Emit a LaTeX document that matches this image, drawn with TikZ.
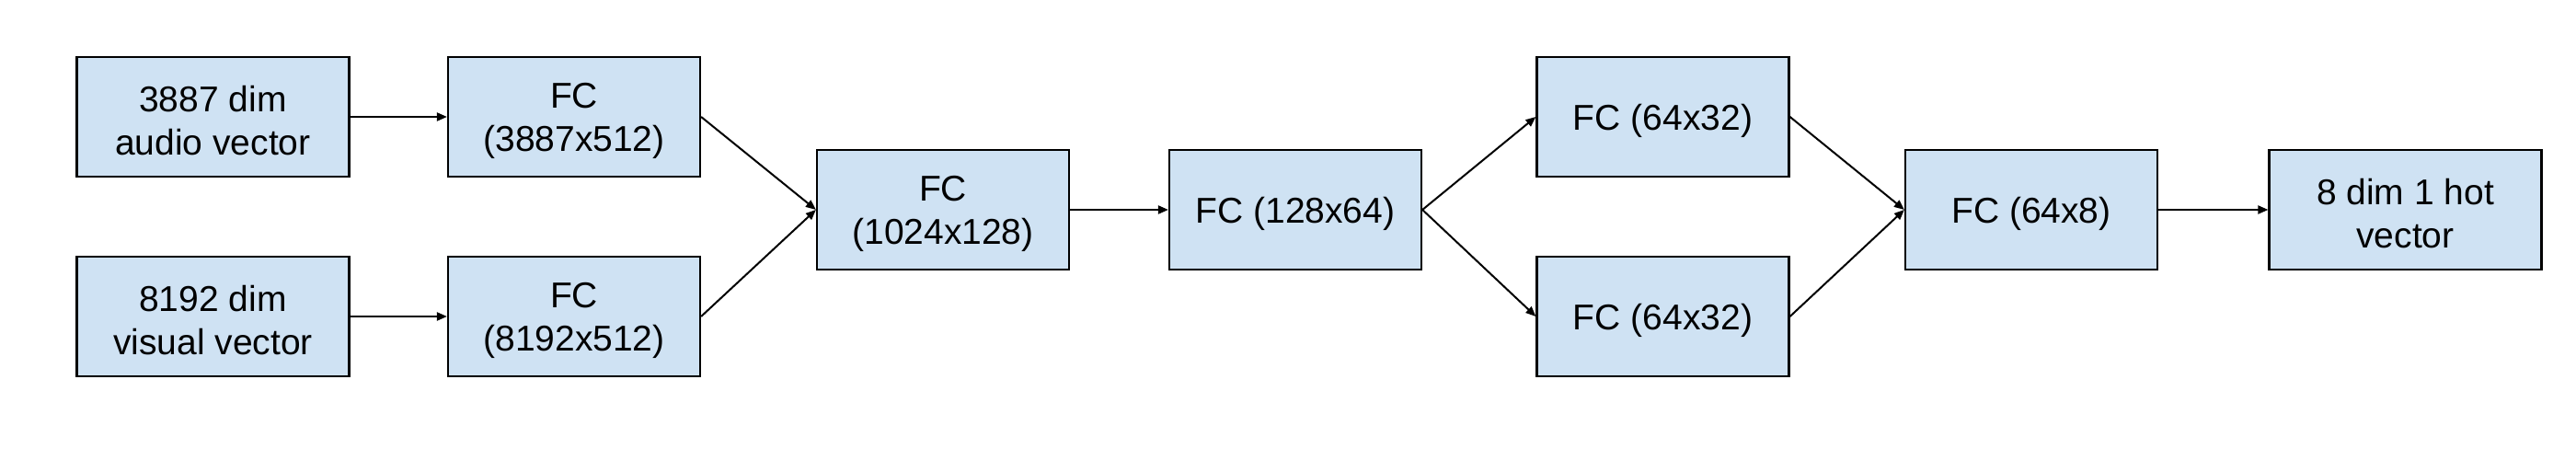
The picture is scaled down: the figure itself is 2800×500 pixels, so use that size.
\documentclass[tikz,border=0pt]{standalone}
\usepackage{fontspec}
\setmainfont{Liberation Sans}
\usetikzlibrary{arrows.meta}
\definecolor{boxfill}{HTML}{CFE2F3}
\tikzset{
  blk/.style={draw=black, fill=boxfill, line width=2.2pt, rectangle, inner sep=0pt,
    minimum height=130pt},
  fcbox/.style={blk, minimum width=274pt},
  iobox/.style={blk, minimum width=296pt},
  lbl/.style={align=center, inner sep=0pt, yshift=-4pt, font=\fontsize{39}{47}\selectfont},
  conn/.style={line width=2pt, -{Triangle[length=11pt,width=9pt]}}
}
\begin{document}
\begin{tikzpicture}[x=1pt,y=-1pt]
\useasboundingbox (0,0) rectangle (2800,500);
\node[iobox] (audio) at (231.5,127) {};
\node[iobox] (visual) at (231.5,344) {};
\node[fcbox] (fca) at (624,127) {};
\node[fcbox] (fcv) at (624,344) {};
\node[fcbox] (fcm) at (1025,228) {};
\node[fcbox] (fcd) at (1408,228) {};
\node[fcbox] (fct) at (1807.5,127) {};
\node[fcbox] (fcb) at (1807.5,344) {};
\node[fcbox] (fco) at (2208,228) {};
\node[iobox] (out) at (2614.5,228) {};
\node[lbl] (audio-t) at (audio) {3887 dim\\audio vector};
\node[lbl] (visual-t) at (visual) {8192 dim\\visual vector};
\node[lbl] (fca-t) at (fca) {FC\\(3887x512)};
\node[lbl] (fcv-t) at (fcv) {FC\\(8192x512)};
\node[lbl] (fcm-t) at (fcm) {FC\\(1024x128)};
\node[lbl] (fcd-t) at (fcd) {FC (128x64)};
\node[lbl] (fct-t) at (fct) {FC (64x32)};
\node[lbl] (fcb-t) at (fcb) {FC (64x32)};
\node[lbl] (fco-t) at (fco) {FC (64x8)};
\node[lbl] (out-t) at (out) {8 dim 1 hot\\vector};
\draw[conn] (audio.east) -- (fca.west);
\draw[conn] (visual.east) -- (fcv.west);
\draw[conn] (fca.east) -- (fcm.west);
\draw[conn] (fcv.east) -- (fcm.west);
\draw[conn] (fcm.east) -- (fcd.west);
\draw[conn] (fcd.east) -- (fct.west);
\draw[conn] (fcd.east) -- (fcb.west);
\draw[conn] (fct.east) -- (fco.west);
\draw[conn] (fcb.east) -- (fco.west);
\draw[conn] (fco.east) -- (out.west);
\end{tikzpicture}
\end{document}
